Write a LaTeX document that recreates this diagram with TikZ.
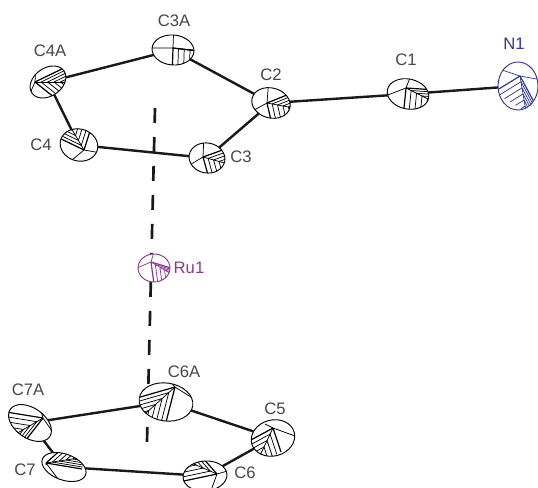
\documentclass[tikz,border=0pt]{standalone}
\usepackage{fontspec}
\setmainfont{Liberation Sans}
\usetikzlibrary{calc, shapes.geometric}
\definecolor{navyatom}{HTML}{34398F}
\definecolor{ruatom}{HTML}{8E3A8C}
\tikzset{
  atomshape/.style={ellipse, draw, fill=white, line width=0.7pt, inner sep=0pt, outer sep=0pt},
  bond/.style={line width=1.8pt, black!90},
  centroid/.style={line width=2pt, black!90, dash pattern=on 11.25pt off 10.5pt},
  hatchline/.style={line width=0.55pt},
  atomlabel/.style={font=\fontsize{12.5}{14}\selectfont, text=black!72, inner sep=0pt}
}
\def\atomcol{black}
% name, centre, width, height, rotation, apex, three octant corners
\newcommand{\ortep}[9]{
  \node[atomshape, draw=\atomcol, minimum width=#3*0.75pt, minimum height=#4*0.75pt, rotate=#5] (#1) at (#2) {};
  \begin{scope}[shift={(#2)}]
    \begin{scope}[rotate=#5]
      \clip (0,0) ellipse ({#3/2} and {#4/2});
      \begin{scope}[rotate=-#5, draw=\atomcol, hatchline]
        \coordinate (a) at (#6);
        \coordinate (p) at (#7);
        \coordinate (m) at (#8);
        \coordinate (q) at (#9);
        \foreach \t in {0.16,0.33,...,0.95} {
          \draw ($(a)!\t!(m)$) -- ($(p)!\t!(m)$);
          \draw ($(a)!\t!(m)$) -- ($(q)!\t!(m)$);
        }
        \draw[line width=0.9pt] (a) -- (p) (a) -- (q);
        \draw (a) -- (m);
        \draw (a) -- ($(0,0)!-1!(p)$) (a) -- ($(0,0)!-1!(q)$);
      \end{scope}
    \end{scope}
  \end{scope}
}

\begin{document}
\begin{tikzpicture}[x=0.75pt, y=0.75pt]
\clip (0,0) rectangle (538,488);
\fill[white] (0,0) rectangle (538,488);

\coordinate (ctop) at (155,380);
\coordinate (cbot) at (147,46);
\draw[centroid] (ctop) -- (cbot);

\ortep{C3A}{173,438}{42}{30}{-5}{0,2}{34,-2}{34,-2}{-1,-30}
\ortep{C4A}{48,406}{39}{28}{35}{-13,0}{20,16}{25,0}{12,-20}
\ortep{C4}{79,343}{38}{32}{-15}{5,-5}{-22,8}{-12,24}{13,20}
\ortep{C3}{207,330}{36}{30}{-10}{-4,1}{24,11}{28,-8}{3,-24}
\ortep{C2}{271,385}{39}{30}{-15}{-4,0}{26,12}{28,-6}{2,-26}
\ortep{C1}{408,394}{42}{30}{-12}{-2,6}{28,4}{30,-10}{-5,-24}
\ortep{C6A}{166,86}{54}{38}{-8}{9,15}{-36,2}{-30,-20}{-1,-24}
\ortep{C7A}{30,65}{48}{30}{-35}{13,5}{-24,11}{-26,-18}{-8,-22}
\ortep{C7}{64,21}{46}{26}{-20}{-18,4}{0,20}{22,10}{18,-2}
\ortep{C6}{205,12}{44}{30}{5}{12,2}{-4,20}{-30,20}{-26,-6}
\ortep{C5}{273,50}{44}{36}{15}{0,10}{-22,-2}{-18,-28}{8,-14}
{\def\atomcol{navyatom}
\ortep{N1}{518,402}{40}{48}{0}{2,10}{-24,-6}{8,-26}{16,-16}}
{\def\atomcol{ruatom}
\ortep{Ru1}{154,220}{32}{28}{0}{-3,6}{17,0}{24,-10}{0,-16}}

\draw[bond] (C4A) -- (C3A);
\draw[bond] (C3A) -- (C2);
\draw[bond] (C2) -- (C3);
\draw[bond] (C3) -- (C4);
\draw[bond] (C4) -- (C4A);
\draw[bond] (C2) -- (C1);
\draw[bond] (C1) -- (N1);
\draw[bond] (C7A) -- (C6A);
\draw[bond] (C6A) -- (C5);
\draw[bond] (C5) -- (C6);
\draw[bond] (C6) -- (C7);
\draw[bond] (C7) -- (C7A);

\node[atomlabel] (lC3A) at (174,467) {C3A};
\node[atomlabel] (lC4A) at (50,437) {C4A};
\node[atomlabel] (lC4) at (41,343) {C4};
\node[atomlabel] (lC3) at (241,331) {C3};
\node[atomlabel] (lC2) at (271,413) {C2};
\node[atomlabel] (lC1) at (406,428) {C1};
\node[atomlabel, text=navyatom] (lN1) at (514,444) {N1};
\node[atomlabel, text=ruatom] (lRu1) at (189,220) {Ru1};
\node[atomlabel] (lC6A) at (184,116) {C6A};
\node[atomlabel] (lC7A) at (28,98) {C7A};
\node[atomlabel] (lC7) at (25,18) {C7};
\node[atomlabel] (lC6) at (245,15) {C6};
\node[atomlabel] (lC5) at (275,79) {C5};
\end{tikzpicture}
\end{document}
